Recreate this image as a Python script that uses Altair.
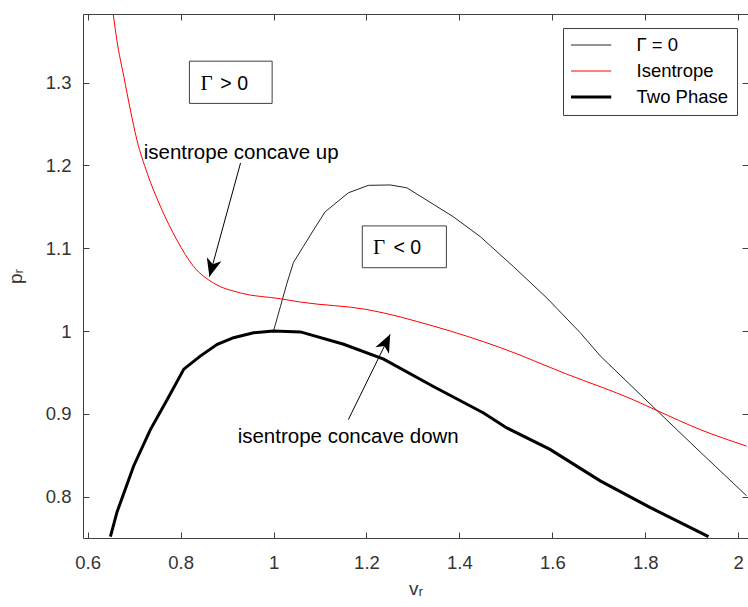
import altair as alt
import pandas as pd

# ---------------- data ----------------
series_names = ["Γ = 0", "Isentrope", "Two Phase"]

gam_v = [1.0, 1.015, 1.029, 1.043, 1.064, 1.086, 1.111, 1.161, 1.204, 1.251, 1.287,
         1.330, 1.387, 1.445, 1.516, 1.588, 1.660, 1.703, 1.825, 1.918, 2.018]
gam_p = [1.0, 1.030, 1.058, 1.083, 1.102, 1.122, 1.144, 1.167, 1.176, 1.1765, 1.173,
         1.158, 1.138, 1.114, 1.078, 1.040, 0.998, 0.970, 0.904, 0.854, 0.801]

iso_v = [0.655, 0.663, 0.678, 0.692, 0.706, 0.728, 0.757, 0.792, 0.828, 0.871, 0.929,
         1.015, 1.058, 1.201, 1.344, 1.488, 1.631, 1.774, 1.825, 1.918, 2.018]
iso_p = [1.383, 1.351, 1.307, 1.267, 1.231, 1.191, 1.150, 1.110, 1.078, 1.058, 1.046,
         1.039, 1.035, 1.026, 1.006, 0.980, 0.948, 0.917, 0.904, 0.881, 0.861]

tp_v = [0.649, 0.663, 0.699, 0.735, 0.771, 0.807, 0.843, 0.879, 0.914, 0.957, 1.0,
        1.058, 1.151, 1.237, 1.344, 1.452, 1.502, 1.595, 1.703, 1.810, 1.936]
tp_p = [0.7516, 0.781, 0.837, 0.881, 0.917, 0.954, 0.970, 0.984, 0.992, 0.998, 1.0,
        0.999, 0.984, 0.966, 0.933, 0.901, 0.883, 0.857, 0.819, 0.787, 0.7516]

x_ticks = [0.6, 0.8, 1.0, 1.2, 1.4, 1.6, 1.8, 2.0]
y_ticks = [0.8, 0.9, 1.0, 1.1, 1.2, 1.3]

ann_text = ["isentrope concave up", "isentrope concave down"]
ann_x = [0.7207, 0.9228]
ann_y = [1.2078, 0.8645]

box_x0 = [0.819, 1.191]
box_x1 = [0.997, 1.372]
box_y0 = [1.275, 1.0765]
box_y1 = [1.326, 1.127]

gamma_sym = ["Γ", "Γ"]
gamma_x = [0.8426, 1.214]
rel_text = ["> 0", "< 0"]
rel_x = [0.8856, 1.2583]
box_text_y = [1.291, 1.0934]

arr_x0 = [0.929, 1.161]
arr_y0 = [1.203, 0.893]
arr_x1 = [0.862, 1.251]
arr_y1 = [1.0657, 0.996]
arr_angle = [195.2, 26.3]

line_widths = [1, 3]  # Γ = 0, Two Phase

# ---------------- tables ----------------
black_df = pd.concat([
    pd.DataFrame({"v": gam_v, "p": gam_p, "series": series_names[0],
                  "w": line_widths[0], "i": range(len(gam_v))}),
    pd.DataFrame({"v": tp_v, "p": tp_p, "series": series_names[2],
                  "w": line_widths[1], "i": range(len(tp_v))}),
])
red_df = pd.DataFrame({"v": iso_v, "p": iso_p, "series": series_names[1], "i": range(len(iso_v))})
ann_df = pd.DataFrame({"x": ann_x, "y": ann_y, "t": ann_text})
box_df = pd.DataFrame({"x0": box_x0, "x1": box_x1, "y0": box_y0, "y1": box_y1})
gsym_df = pd.DataFrame({"x": gamma_x, "y": box_text_y, "t": gamma_sym})
rel_df = pd.DataFrame({"x": rel_x, "y": box_text_y, "t": rel_text})
arr_df = pd.DataFrame({"x0": arr_x0, "y0": arr_y0, "x1": arr_x1, "y1": arr_y1, "a": arr_angle})

# ---------------- layout / style ----------------
W, H = 665, 524
FONT = "Liberation Sans"
AX = "#404040"
xs = alt.Scale(domain=[0.59, 2.021], nice=False, zero=False)
ys = alt.Scale(domain=[0.75, 1.383], nice=False, zero=False)

main_x = alt.Axis(values=x_ticks, format="~g", orient="bottom", ticks=False, domain=False,
                  grid=False, labelFont=FONT, labelFontSize=18.5, labelPadding=15,
                  labelColor="#333333", title="vᵣ", titleFont=FONT, titleFontSize=19,
                  titleFontWeight="normal", titleColor="#333333", titlePadding=8)
main_y = alt.Axis(values=y_ticks, format="~g", orient="left", ticks=False, domain=False,
                  grid=False, labelFont=FONT, labelFontSize=18.5, labelPadding=12,
                  labelColor="#333333", title="pᵣ", titleFont=FONT, titleFontSize=19,
                  titleFontWeight="normal", titleColor="#333333", titlePadding=20)

def tick_axis(vals, orient, off):
    return alt.Axis(values=vals, orient=orient, offset=off, labels=False, domain=False,
                    ticks=True, tickSize=6, tickColor=AX, tickWidth=1, grid=False, title=None)

color_enc = alt.Color("series:N", scale=alt.Scale(domain=series_names,
                                                  range=["#262626", "#ff0000", "#000000"]),
                      legend=alt.Legend(orient="none", legendX=480, legendY=14, title=None,
                                        symbolType="stroke", symbolSize=3844,
                                        symbolStrokeWidth=alt.ExprRef(
                                            expr="datum.value === 'Two Phase' ? 3 : 1"),
                                        clipHeight=18,
                                        labelFont=FONT, labelFontSize=18.5, labelColor="#000000",
                                        strokeColor=AX, fillColor="white", padding=8,
                                        rowPadding=7, labelOffset=47, cornerRadius=0))

boxes = alt.Chart(box_df).mark_rect(fill="white", stroke=AX, strokeWidth=1).encode(
    x=alt.X("x0:Q", scale=xs, axis=tick_axis(x_ticks, "bottom", -H)),
    x2="x1:Q",
    y=alt.Y("y0:Q", scale=ys, axis=tick_axis(y_ticks, "left", -W)),
    y2="y1:Q",
)

black_lines = alt.Chart(black_df).mark_line(clip=True).encode(
    x=alt.X("v:Q", scale=xs, axis=main_x),
    y=alt.Y("p:Q", scale=ys, axis=main_y),
    color=color_enc,
    strokeWidth=alt.StrokeWidth("w:Q", scale=None, legend=None),
    order="i:Q",
)
red_line = alt.Chart(red_df).mark_line(clip=True, interpolate="monotone").encode(
    x=alt.X("v:Q", scale=xs, axis=None),
    y=alt.Y("p:Q", scale=ys, axis=None),
    color=color_enc, strokeWidth=alt.value(1), order="i:Q",
)

arrows = alt.Chart(arr_df).mark_rule(color="black", strokeWidth=1).encode(
    x=alt.X("x0:Q", scale=xs, axis=None), y=alt.Y("y0:Q", scale=ys, axis=None),
    x2="x1:Q", y2="y1:Q",
)
heads = alt.Chart(arr_df).mark_point(
    shape="M0,0 L-0.42,1 L0,0.72 L0.42,1 Z", filled=True, color="black", opacity=1, size=1296
).encode(
    x=alt.X("x1:Q", scale=xs, axis=None), y=alt.Y("y1:Q", scale=ys, axis=None),
    angle=alt.Angle("a:Q", scale=None),
)

ann = alt.Chart(ann_df).mark_text(align="left", baseline="alphabetic", font=FONT,
                                  fontSize=20.5, color="black").encode(
    x=alt.X("x:Q", scale=xs, axis=tick_axis(x_ticks, "top", -H)),
    y=alt.Y("y:Q", scale=ys, axis=tick_axis(y_ticks, "right", -W)),
    text="t:N",
)
gsym = alt.Chart(gsym_df).mark_text(align="left", baseline="alphabetic",
                                    font="Liberation Serif", fontSize=21, color="black").encode(
    x=alt.X("x:Q", scale=xs, axis=None), y=alt.Y("y:Q", scale=ys, axis=None), text="t:N",
)
rel = alt.Chart(rel_df).mark_text(align="left", baseline="alphabetic", font=FONT,
                                  fontSize=19.5, color="black").encode(
    x=alt.X("x:Q", scale=xs, axis=None), y=alt.Y("y:Q", scale=ys, axis=None), text="t:N",
)

chart = alt.layer(boxes, black_lines, red_line, arrows, heads, ann, gsym, rel).resolve_axis(
    x="independent", y="independent"
).properties(
    width=W, height=H,
    autosize=alt.AutoSizeParams(type="none"),
    padding={"left": 83, "top": 14, "right": 0, "bottom": 69},
    background="white",
).configure_view(stroke=AX, strokeWidth=1)

chart.save("out.html", embed_options={"renderer": "svg", "actions": False})
